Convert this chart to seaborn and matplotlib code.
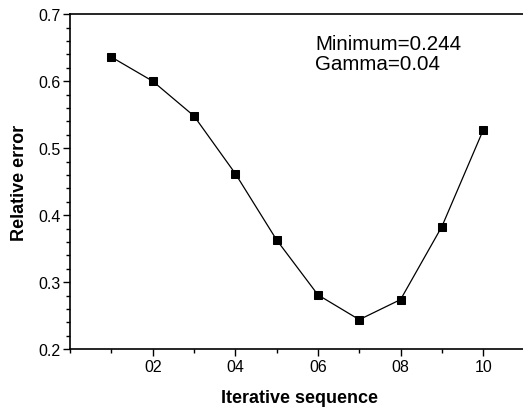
import matplotlib
matplotlib.use("Agg")
import matplotlib.pyplot as plt
import seaborn as sns
import pandas as pd
from matplotlib.ticker import MultipleLocator, FixedLocator

iteration = [1, 2, 3, 4, 5, 6, 7, 8, 9, 10]
rel_error = [0.636, 0.600, 0.548, 0.462, 0.363, 0.281, 0.244, 0.274, 0.383, 0.527]
xtick_pos = [2, 4, 6, 8, 10]
xtick_labels = ["02", "04", "06", "08", "10"]
annotation = "Minimum=0.244\nGamma=0.04"

sns.set_style("ticks")
plt.rcParams['font.family'] = ['Liberation Sans', 'DejaVu Sans']
plt.rcParams['text.color'] = 'black'
plt.rcParams['axes.labelcolor'] = 'black'
plt.rcParams['xtick.color'] = 'black'
plt.rcParams['ytick.color'] = 'black'

df = pd.DataFrame({"x": iteration, "y": rel_error})

fig = plt.figure(figsize=(5.23, 4.10), dpi=100)
ax = fig.add_axes([0.134, 0.146, 0.876, 0.817])

sns.lineplot(data=df, x="x", y="y", ax=ax, color="black", linewidth=0.9,
             marker="s", markersize=5.5, markeredgecolor="black",
             markerfacecolor="black")

ax.set_xlim(0, 11.09)
ax.set_ylim(0.2, 0.7)
ax.xaxis.set_major_locator(FixedLocator(xtick_pos))
ax.set_xticklabels(xtick_labels)
ax.xaxis.set_minor_locator(MultipleLocator(1))
ax.yaxis.set_major_locator(MultipleLocator(0.1))
ax.yaxis.set_minor_locator(MultipleLocator(0.02))
ax.yaxis.set_major_formatter(matplotlib.ticker.FormatStrFormatter('%.1f'))

ax.tick_params(axis='both', which='major', direction='out', length=5, width=1,
               labelsize=11.5, colors='black', pad=2)
ax.tick_params(axis='both', which='minor', direction='out', length=3, width=1,
               colors='black')
ax.tick_params(top=False, right=False)

for s in ax.spines.values():
    s.set_color("black")
    s.set_linewidth(1.2)

ax.set_xlabel("Iterative sequence", fontsize=13, fontweight="bold", labelpad=11,
              color="black")
ax.set_ylabel("Relative error", fontsize=13, fontweight="bold", labelpad=7,
              color="black")

ax.text(0.535, 0.94, annotation, transform=ax.transAxes, fontsize=14.8,
        va="top", ha="left", linespacing=1.05, color="black")

fig.savefig("out.png", dpi=100)
